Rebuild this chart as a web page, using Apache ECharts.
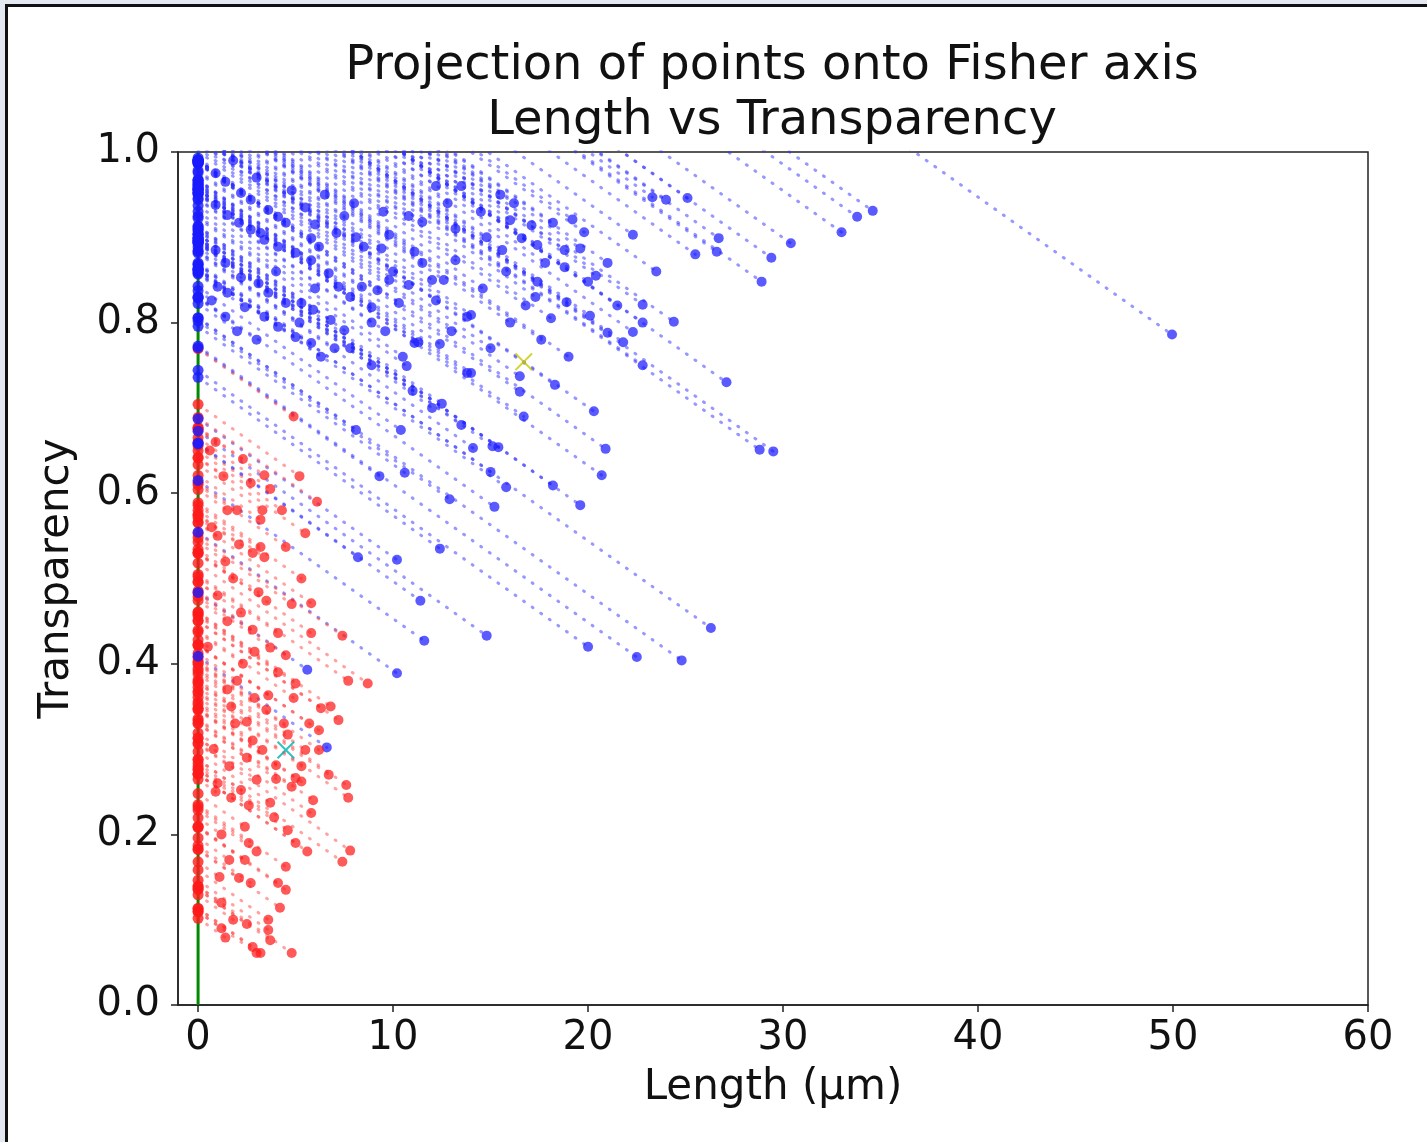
<!DOCTYPE html>
<html>
<head>
<meta charset="utf-8">
<title>Projection of points onto Fisher axis</title>
<script src="https://cdn.jsdelivr.net/npm/echarts@6/dist/echarts.min.js"></script>
<style>
  html, body { margin: 0; padding: 0; }
  body { width: 1427px; height: 1142px; background: #e3e8f1; position: relative; overflow: hidden; }
  #frame { position: absolute; left: 5px; top: 4px; right: 0; bottom: 0;
           background: #ffffff; border-left: 3px solid #111; border-top: 3px solid #111; }
  #chart { position: absolute; left: 0; top: 0; width: 1427px; height: 1142px; }
</style>
</head>
<body>
<div id="frame"></div>
<div id="chart"></div>
<script>
// Class 1 (blue): length in µm and transparency of each sample
const blueLength = [
  49.95, 34.6, 33.8, 33.0, 30.4, 29.4, 28.9, 26.7, 26.6, 25.1, 24.0, 23.3, 22.3,
  19.8, 19.2, 18.2, 17.1, 19.6, 18.8, 17.4, 16.6, 15.6, 18.8, 20.4, 20.0, 17.4,
  17.3, 18.9, 22.8, 18.1, 20.1, 21.0, 21.8, 24.4, 22.8, 22.3, 14.0, 22.8, 27.1,
  28.8, 29.5, 16.5, 18.3, 16.5, 20.3, 16.7, 14.1, 15.1, 15.4, 20.9, 20.7, 15.0,
  15.8, 18.2, 19.6, 15.2, 14.0, 14.8, 20.0, 22.5, 24.8, 26.3, 10.2, 8.2, 12.4,
  11.4, 11.6, 10.2, 5.6, 6.6, 8.1, 9.3, 10.6, 12.5, 10.4, 13.8, 10.7, 8.9, 11.1,
  12.4, 12.9,
  5.5, 3.6, 2.7, 2.2, 1.4, 0.9, 4.5, 4.1, 3.2, 5.8, 6.2, 7.1, 8.1, 8.5, 9.4, 9.8,
  11.5, 11.1, 11.5, 9.2, 8.4, 8.9, 8.9, 10.3, 10.8, 12.2, 13.8, 11.3, 13.2, 7.2,
  6.7, 5.8, 5.0, 4.1, 3.4, 2.7, 2.1, 1.5, 0.9, 4.5, 5.3, 5.9, 6.8, 7.5, 3.1, 3.6,
  2.2, 1.4, 0.9, 1.0, 1.5, 2.4, 3.4, 4.1, 5.0, 5.8, 1.4, 0.7,
  14.5, 15.5, 16.0, 13.5, 14.8, 16.2, 12.8, 13.2, 7.8, 6.3, 10.0, 12.0,
  1.8, 3.0, 4.8, 6.5, 8.0, 9.5, 10.8, 12.2, 6.0, 7.5, 4.0, 6.0, 7.8, 9.8, 12.6,
  3.0, 5.2, 2.0, 7.0, 9.6, 10.5, 13.0, 15.0, 16.0, 15.8, 17.8, 16.8, 14.6, 12.0,
  13.5, 11.0, 17.6, 19.0, 21.5, 23.5, 25.5, 21.0
];
const blueTransparency = [
  0.786, 0.931, 0.924, 0.906, 0.893, 0.876, 0.848, 0.899, 0.883, 0.946, 0.944, 0.947, 0.903,
  0.906, 0.921, 0.917, 0.914, 0.887, 0.885, 0.891, 0.899, 0.885, 0.865, 0.855, 0.848, 0.848,
  0.830, 0.824, 0.821, 0.805, 0.808, 0.788, 0.777, 0.801, 0.800, 0.789, 0.809, 0.750, 0.730,
  0.651, 0.649, 0.737, 0.727, 0.719, 0.696, 0.690, 0.653, 0.655, 0.654, 0.652, 0.621, 0.625,
  0.607, 0.609, 0.586, 0.584, 0.741, 0.433, 0.420, 0.408, 0.404, 0.442, 0.522, 0.525, 0.535,
  0.474, 0.427, 0.389, 0.393, 0.302, 0.674, 0.620, 0.624, 0.705, 0.674, 0.741, 0.749, 0.750, 0.776,
  0.775, 0.593,
  0.935, 0.932, 0.944, 0.952, 0.965, 0.975, 0.917, 0.924, 0.905, 0.899, 0.889, 0.905, 0.900, 0.889, 0.887, 0.903,
  0.918, 0.883, 0.870, 0.838, 0.842, 0.818, 0.800, 0.823, 0.844, 0.826, 0.807, 0.777, 0.873, 0.842,
  0.858, 0.873, 0.882, 0.889, 0.897, 0.909, 0.917, 0.926, 0.938, 0.823, 0.823, 0.815, 0.803, 0.791, 0.846, 0.835,
  0.853, 0.870, 0.885, 0.842, 0.835, 0.818, 0.807, 0.795, 0.783, 0.776, 0.807, 0.826,
  0.930, 0.950, 0.920, 0.960, 0.900, 0.940, 0.940, 0.910, 0.770, 0.760, 0.860, 0.850,
  0.990, 0.970, 0.955, 0.950, 0.940, 0.930, 0.925, 0.960, 0.915, 0.925, 0.860, 0.840, 0.830, 0.850, 0.850,
  0.780, 0.800, 0.790, 0.770, 0.790, 0.760, 0.790, 0.770, 0.800, 0.860, 0.870, 0.820, 0.840, 0.700,
  0.680, 0.720, 0.780, 0.760, 0.820, 0.860, 0.880, 0.870
];

// Class 2 (red)
const redLength = [
  4.9, 6.1, 5.5, 4.5, 3.2, 3.4, 2.8, 3.4, 2.7, 3.7, 3.3, 3.2, 5.8, 3.5, 3.1, 5.8,
  7.4, 7.7, 8.7, 4.1, 3.7, 4.5, 5.0, 4.1, 2.9, 3.6, 7.2, 6.2, 6.3, 7.6, 7.7, 5.9,
  5.8, 4.8, 5.3, 4.0, 3.3, 2.5, 3.5, 4.9, 6.2, 5.5, 3.0, 2.2, 3.7, 2.6, 1.7, 2.4,
  4.6, 7.8, 7.4, 5.0, 4.5, 2.4, 2.1, 2.7, 4.1, 4.5, 4.2, 3.6, 3.6, 3.7, 3.2, 4.8,
  1.4, 2.8, 3.0, 4.6, 4.0, 5.0,
  1.0, 1.5, 0.8, 1.2, 2.0, 1.8, 0.6, 1.3, 2.0, 1.6, 1.1, 2.2, 0.5, 1.9, 2.6, 0.9,
  1.4, 2.3, 0.7, 1.7, 2.5, 1.2,
  0.9, 1.5, 2.1, 2.3, 1.0, 2.8, 4.8, 5.3, 1.5, 2.9, 4.4, 5.7, 1.0, 2.8, 3.9, 1.6,
  3.0, 5.6, 1.8, 2.5, 5.3, 6.7, 6.8, 4.3, 5.2, 1.2
];
const redTransparency = [
  0.690, 0.590, 0.553, 0.537, 0.537, 0.525, 0.530, 0.621, 0.612, 0.605, 0.580, 0.569, 0.471, 0.474, 0.484, 0.436,
  0.433, 0.380, 0.377, 0.436, 0.419, 0.410, 0.377, 0.390, 0.414, 0.363, 0.334, 0.322, 0.348, 0.258, 0.243, 0.240,
  0.225, 0.256, 0.262, 0.265, 0.299, 0.332, 0.346, 0.360, 0.299, 0.299, 0.264, 0.252, 0.237, 0.234, 0.243, 0.209,
  0.205, 0.181, 0.168, 0.190, 0.162, 0.170, 0.149, 0.143, 0.143, 0.135, 0.114, 0.100, 0.088, 0.076, 0.061, 0.061,
  0.079, 0.068, 0.061, 0.317, 0.281, 0.266,
  0.550, 0.450, 0.300, 0.200, 0.380, 0.500, 0.650, 0.620, 0.580, 0.280, 0.150, 0.460, 0.420, 0.330, 0.190, 0.250,
  0.520, 0.400, 0.560, 0.350, 0.290, 0.120,
  0.660, 0.580, 0.540, 0.640, 0.480, 0.440, 0.470, 0.500, 0.370, 0.360, 0.330, 0.330, 0.260, 0.310, 0.220, 0.170,
  0.180, 0.180, 0.100, 0.095, 0.280, 0.270, 0.350, 0.580, 0.620, 0.090
];

// Class means
const blueMean = [16.7, 0.754];
const redMean = [4.5, 0.299];

// Axis ticks
const xTicks = [0, 10, 20, 30, 40, 50, 60];

// Direction of the Fisher projection in (length, transparency) space:
// a point (x, y) lands on the axis at y + shift * x.
const shift = 0.0162;

function pairs(xs, ys) { return xs.map((x, i) => [x, ys[i]]); }
function projections(xs, ys) { return xs.map((x, i) => [0, ys[i] + shift * x]); }
// Each projection segment starts on the axis so the dotted pattern lines up.
function segments(xs, ys) {
  return xs.map((x, i) => ({ coords: [[0, ys[i] + shift * x], [x, ys[i]]] }));
}

const FONT = 'DejaVu Sans';
const crossPath = 'path://M0,0.8 L0.8,0 L5,4.2 L9.2,0 L10,0.8 L5.8,5 L10,9.2 L9.2,10 L5,5.8 L0.8,10 L0,9.2 L4.2,5 Z';

const chart = echarts.init(document.getElementById('chart'), null, { renderer: 'canvas' });

const dotted = (color, opacity) => ({
  color: color, width: 3, opacity: opacity, type: [1, 9.5], cap: 'round'
});

chart.setOption({
  backgroundColor: 'transparent',
  animation: false,
  title: {
    text: 'Projection of points onto Fisher axis\nLength vs Transparency',
    left: 767, top: 34, textAlign: 'center',
    textStyle: { fontFamily: FONT, fontSize: 48, fontWeight: 'normal', color: '#111', lineHeight: 55 }
  },
  grid: { left: 178, top: 152, right: 59, bottom: 137, show: true, borderColor: '#222', borderWidth: 1.5, backgroundColor: 'transparent' },
  xAxis: {
    type: 'value', min: -1.03, max: 60,
    name: 'Length (µm)', nameLocation: 'middle', nameGap: 62,
    nameTextStyle: { fontFamily: FONT, fontSize: 42, color: '#111' },
    axisLine: { show: true, onZero: false, lineStyle: { color: '#222', width: 1.5 } },
    axisTick: { show: true, length: 7, customValues: xTicks, lineStyle: { color: '#222', width: 1.5 } },
    axisLabel: { customValues: xTicks, margin: 14, fontFamily: FONT, fontSize: 40, color: '#111' },
    splitLine: { show: false }
  },
  yAxis: {
    type: 'value', min: 0, max: 1, interval: 0.2,
    name: 'Transparency', nameLocation: 'middle', nameGap: 100,
    nameTextStyle: { fontFamily: FONT, fontSize: 42, color: '#111' },
    axisLine: { show: true, onZero: false, lineStyle: { color: '#222', width: 1.5 } },
    axisTick: { show: true, length: 7, lineStyle: { color: '#222', width: 1.5 } },
    axisLabel: { margin: 18, fontFamily: FONT, fontSize: 40, color: '#111', formatter: v => v.toFixed(1) },
    splitLine: { show: false }
  },
  series: [
    {
      name: 'Fisher axis', type: 'line', data: [[0, 0], [0, 1]], symbol: 'none', z: 1,
      lineStyle: { color: '#008a00', width: 3 }, silent: true
    },
    {
      name: 'blue projection', type: 'lines', coordinateSystem: 'cartesian2d', polyline: false,
      clip: true, z: 2, silent: true, data: segments(blueLength, blueTransparency),
      lineStyle: dotted('#3030ff', 0.5)
    },
    {
      name: 'red projection', type: 'lines', coordinateSystem: 'cartesian2d', polyline: false,
      clip: true, z: 2, silent: true, data: segments(redLength, redTransparency),
      lineStyle: dotted('#ff3030', 0.45)
    },
    {
      name: 'blue', type: 'scatter', z: 3, clip: true, symbolSize: 10,
      data: pairs(blueLength, blueTransparency),
      itemStyle: { color: '#1a1aff', opacity: 0.72 }
    },
    {
      name: 'red', type: 'scatter', z: 3, clip: true, symbolSize: 10,
      data: pairs(redLength, redTransparency),
      itemStyle: { color: '#ff1a1a', opacity: 0.72 }
    },
    {
      name: 'red on axis', type: 'scatter', z: 4, clip: true, symbolSize: 11,
      data: projections(redLength, redTransparency),
      itemStyle: { color: '#ff1a1a', opacity: 0.8 }
    },
    {
      name: 'blue on axis', type: 'scatter', z: 5, clip: true, symbolSize: 11,
      data: projections(blueLength, blueTransparency),
      itemStyle: { color: '#1a1aff', opacity: 0.8 }
    },
    {
      name: 'means', type: 'scatter', z: 6, symbol: crossPath, symbolSize: 18,
      data: [
        { value: blueMean, itemStyle: { color: '#c8c800' } },
        { value: redMean, itemStyle: { color: '#00b0b0' } }
      ]
    }
  ]
});
</script>
</body>
</html>
